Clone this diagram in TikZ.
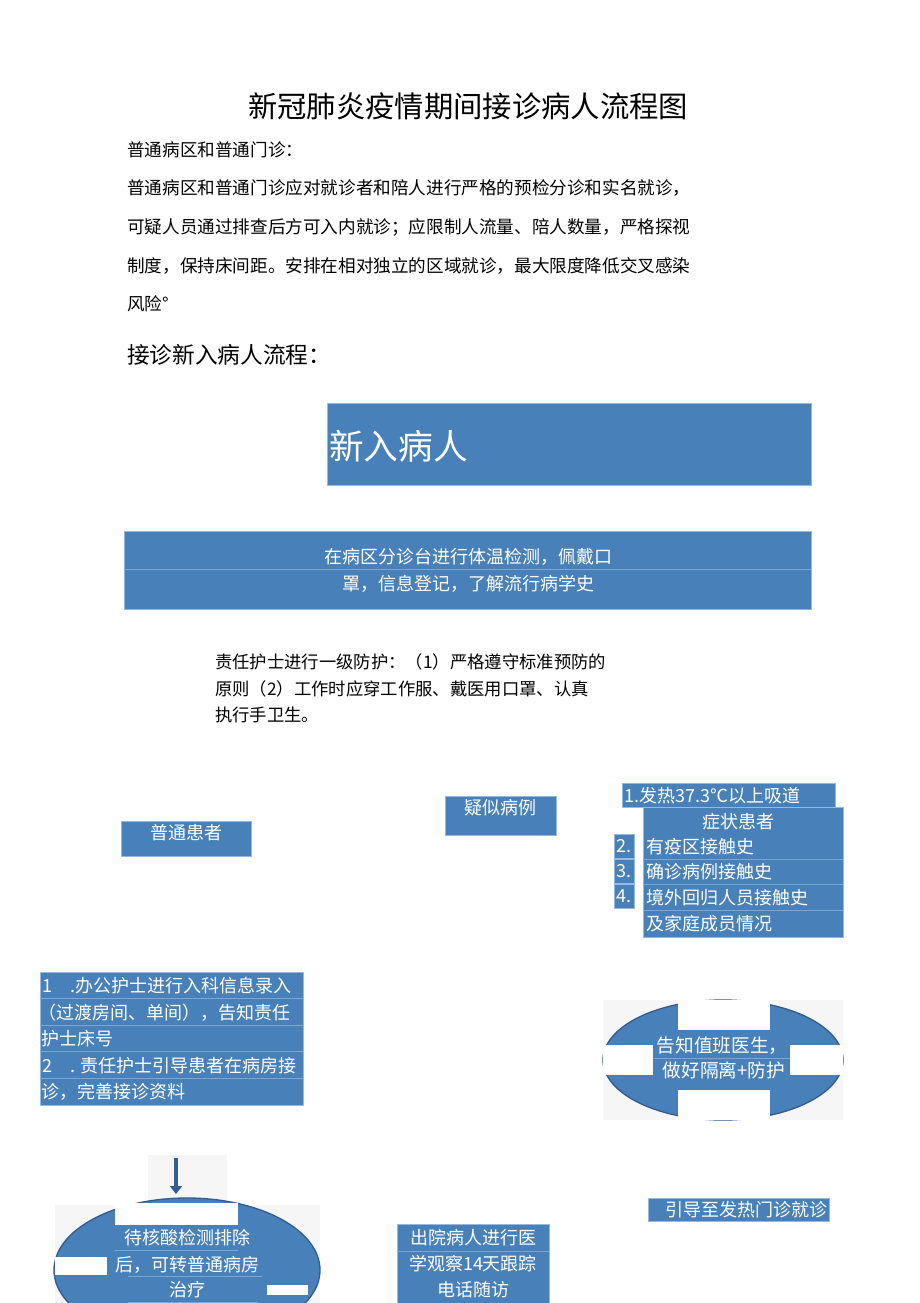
\documentclass[tikz,border=0pt]{standalone}
\usepackage{fontspec}
\setmainfont{Noto Sans CJK SC}
\usetikzlibrary{arrows.meta}
\definecolor{boxblue}{RGB}{72,129,186}
\definecolor{boxedge}{RGB}{150,185,225}
\definecolor{sepline}{RGB}{125,165,210}
\definecolor{elledge}{RGB}{52,92,145}
\definecolor{bggray}{RGB}{246,246,246}
\definecolor{arrowblue}{RGB}{52,92,150}
\tikzset{
  bluebox/.style={fill=boxblue,draw=boxedge,line width=0.6pt},
  sep/.style={draw=sepline,line width=0.6pt},
  wtxt/.style={text=white,inner sep=0pt,font=\fontsize{13.5}{15}\selectfont},
  btxt/.style={text=black,inner sep=0pt,anchor=west,font=\fontsize{13.2}{15}\selectfont},
  whitecut/.style={fill=white,draw=none},
  graybg/.style={fill=bggray,draw=none},
}
\begin{document}
\begin{tikzpicture}[x=0.75pt,y=-0.75pt]
\useasboundingbox (0,0) rectangle (920,1303);
\fill[white] (0,0) rectangle (920,1303);
\begin{scope}
\clip (0,0) rectangle (920,1303);
% title and text
\node[inner sep=0pt,font=\fontsize{22}{24}\selectfont] (title) at (468,106) {新冠肺炎疫情期间接诊病人流程图};
\node[btxt] (p0) at (127,150) {普通病区和普通门诊：};
\node[btxt] (p1) at (127,188) {普通病区和普通门诊应对就诊者和陪人进行严格的预检分诊和实名就诊，};
\node[btxt] (p2) at (127,227) {可疑人员通过排查后方可入内就诊；应限制人流量、陪人数量，严格探视};
\node[btxt] (p3) at (127,266) {制度，保持床间距。安排在相对独立的区域就诊，最大限度降低交叉感染};
\node[btxt] (p4) at (127,304) {风险°};
\node[btxt,font=\fontsize{17}{19}\selectfont] (h2) at (127,355) {接诊新入病人流程：};

% new patient box
\draw[bluebox] (327,403) rectangle (811,485);
\node[wtxt,anchor=west,font=\fontsize{26}{28}\selectfont] (newp) at (329,446) {新入病人};

% triage box
\draw[bluebox] (124,531) rectangle (811,609);
\draw[sep] (124,569) -- (811,569);
\node[wtxt] (tri1) at (468,557) {在病区分诊台进行体温检测，佩戴口};
\node[wtxt] (tri2) at (468,584) {罩，信息登记，了解流行病学史};

% protection text
\node[btxt,font=\fontsize{13}{15}\selectfont] (pr1) at (215,662) {责任护士进行一级防护：（1）严格遵守标准预防的};
\node[btxt,font=\fontsize{13}{15}\selectfont] (pr2) at (215,689) {原则（2）工作时应穿工作服、戴医用口罩、认真};
\node[btxt,font=\fontsize{13}{15}\selectfont] (pr3) at (215,715) {执行手卫生。};

% ordinary patient
\draw[bluebox] (121,821) rectangle (251,856);
\node[wtxt] (ord) at (186,833) {普通患者};

% suspected case
\draw[bluebox] (445,796) rectangle (556,835);
\node[wtxt] (sus) at (500,808) {疑似病例};

% criteria box
\draw[bluebox] (622,783) rectangle (835,807);
\draw[bluebox] (643,807) rectangle (843,937);
\draw[sep] (643,859) -- (843,859);
\draw[sep] (643,884) -- (843,884);
\draw[sep] (643,910) -- (843,910);
\draw[bluebox] (614,834) rectangle (634,858);
\draw[bluebox] (614,859) rectangle (634,883);
\draw[bluebox] (614,884) rectangle (634,908);
\node[wtxt,anchor=west] (c1) at (624,796) {1.发热37.3℃以上吸道};
\node[wtxt] (c1b) at (738,822) {症状患者};
\node[wtxt] (n2) at (624,846) {2.};
\node[wtxt] (n3) at (624,871) {3.};
\node[wtxt] (n4) at (624,896) {4.};
\node[wtxt,anchor=west] (c2) at (646,847) {有疫区接触史};
\node[wtxt,anchor=west] (c3) at (646,872) {确诊病例接触史};
\node[wtxt,anchor=west] (c4) at (646,898) {境外回归人员接触史};
\node[wtxt,anchor=west] (c4b) at (646,924) {及家庭成员情况};

% admission steps box
\draw[bluebox] (40,972) rectangle (303,1105);
\foreach \yy in {998,1025,1051,1078} \draw[sep] (40,\yy) -- (303,\yy);
\node[wtxt,anchor=west] (s1n) at (42,986) {1};
\node[wtxt,anchor=west] (s1) at (70,986) {.办公护士进行入科信息录入};
\node[wtxt,anchor=west] (s1b) at (38,1013) {（过渡房间、单间），告知责任};
\node[wtxt,anchor=west] (s1c) at (41,1039) {护士床号};
\node[wtxt,anchor=west] (s2n) at (42,1066) {2};
\node[wtxt,anchor=west] (s2) at (70,1066) {. 责任护士引导患者在病房接};
\node[wtxt,anchor=west] (s2b) at (41,1092) {诊，完善接诊资料};

% right ellipse
\fill[graybg] (603,1000) rectangle (843,1120);
\draw[fill=boxblue,draw=elledge,line width=1pt] (723,1060) ellipse [x radius=120, y radius=60];
\fill[whitecut] (678,1000) rectangle (770,1030);
\fill[whitecut] (603,1045) rectangle (653,1075);
\fill[whitecut] (790,1045) rectangle (843,1075);
\fill[whitecut] (678,1090) rectangle (770,1120);
\draw[sep] (653,1058) -- (790,1058);
\node[wtxt,font=\fontsize{14}{16}\selectfont] (doc1) at (722,1046) {告知值班医生，};
\node[wtxt,font=\fontsize{14}{16}\selectfont] (doc2) at (724,1070) {做好隔离+防护};

% arrow + bottom left ellipse
\fill[graybg] (148,1155) rectangle (227,1202);
\fill[graybg] (55,1205) rectangle (320,1303);
\coordinate (arS) at (176,1158);
\coordinate (arE) at (176,1194);
\draw[arrowblue,line width=2.4pt,-{Triangle[width=9pt,length=6pt]}] (arS) -- (arE);
\draw[fill=boxblue,draw=elledge,line width=1pt] (187,1270) ellipse [x radius=133, y radius=72];
\fill[whitecut] (115,1203) rectangle (238,1225);
\fill[whitecut] (55,1257) rectangle (107,1275);
\fill[whitecut] (267,1285) rectangle (308,1295);
\draw[sep] (115,1250) -- (238,1250);
\draw[sep] (128,1276) -- (262,1276);
\draw[sep] (128,1302) -- (258,1302);
\node[wtxt] (nuc1) at (187,1238) {待核酸检测排除};
\node[wtxt] (nuc2) at (187,1265) {后，可转普通病房};
\node[wtxt] (nuc3) at (187,1290) {治疗};

% discharged box
\draw[bluebox] (397,1224) rectangle (549,1310);
\draw[sep] (397,1251) -- (549,1251);
\node[wtxt] (dis1) at (473,1238) {出院病人进行医};
\node[wtxt] (dis2) at (473,1264) {学观察14天跟踪};
\node[wtxt] (dis3) at (473,1290) {电话随访};

% fever clinic
\draw[bluebox] (648,1198) rectangle (829,1221);
\node[wtxt] (fev) at (746,1210) {引导至发热门诊就诊};
\end{scope}
\end{tikzpicture}
\end{document}
